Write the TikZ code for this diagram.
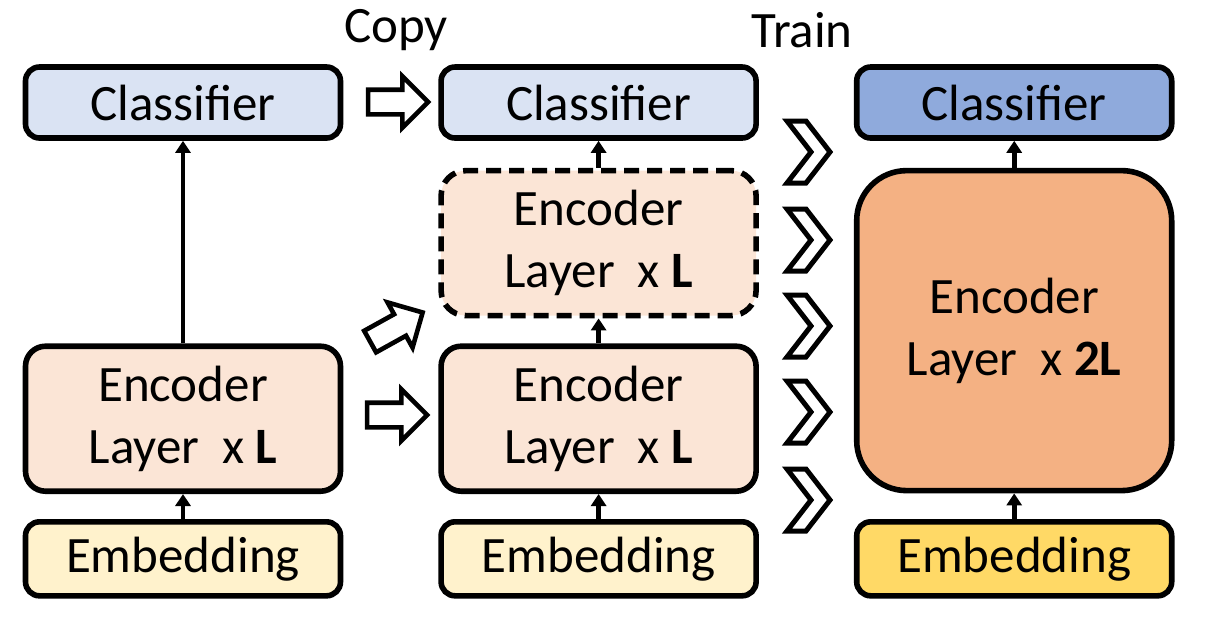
\documentclass[tikz,border=0pt]{standalone}
\usepackage{fontspec}
\setmainfont{Carlito}
\usetikzlibrary{positioning, shapes.arrows, arrows.meta}

\definecolor{clslight}{HTML}{DAE3F3}
\definecolor{clsdark}{HTML}{8FAADC}
\definecolor{enclight}{HTML}{FBE5D6}
\definecolor{encdark}{HTML}{F4B183}
\definecolor{emblight}{HTML}{FFF2CC}
\definecolor{embdark}{HTML}{FFD966}

\begin{document}
\begin{tikzpicture}[x=0.5pt, y=-0.5pt, node distance=12.5pt]
    \tikzstyle{block}=[draw, rectangle, rounded corners=7pt, line width=2.8pt, minimum width=157.5pt, inner sep=0pt, align=center, font=\fontsize{25.5}{31}\selectfont];
    \tikzstyle{cls}=[block, minimum height=35.5pt, fill=clslight];
    \tikzstyle{enc}=[block, minimum height=72.5pt, rounded corners=10pt, fill=enclight];
    \tikzstyle{emb}=[block, minimum height=37pt, fill=emblight];
    \tikzstyle{up}=[-{Triangle[length=6pt, width=7.5pt]}, line width=2.4pt];
    \tikzstyle{hollow}=[draw, single arrow, line width=2.3pt, minimum height=30pt, inner xsep=0pt, inner ysep=5pt, single arrow head extend=6.75pt];
    \useasboundingbox (0,0) rectangle (1210,629);

    \node[font=\fontsize{25.5}{31}\selectfont] (copy) at (396,30) {Copy};
    \node[font=\fontsize{25.5}{31}\selectfont] (train) at (802,30) {Train};

    \node[cls] (cls1) at (183,102.5) {Classifier};
    \node[cls, right=47.5pt of cls1] (cls2) {Classifier};
    \node[cls, right=47.5pt of cls2, fill=clsdark] (cls3) {Classifier};

    \node[enc, below=13.5pt of cls2, dashed, dash pattern=on 7.5pt off 4pt, rounded corners=12.5pt] (enc2a) {Encoder\\Layer~~x \textbf{L}};
    \node[enc, below=12.5pt of enc2a] (enc2b) {Encoder\\Layer~~x \textbf{L}};
    \node[emb, below=12.5pt of enc2b] (emb2) {Embedding};
    \node[enc, left=47.5pt of enc2b] (enc1) {Encoder\\Layer~~x \textbf{L}};
    \node[emb, left=47.5pt of emb2] (emb1) {Embedding};
    \node[enc, below=13.5pt of cls3, minimum height=160pt, rounded corners=25pt, fill=encdark] (enc3) {Encoder\\Layer~~x \textbf{2L}};
    \node[emb, right=47.5pt of emb2, fill=embdark] (emb3) {Embedding};

    % copy arrows
    \node[hollow] (cpya) at (392,102) {};
    \node[hollow, rotate=29] (cpyb) at (391,330) {};
    \node[hollow] (cpyc) at (391,415) {};

    % train chevrons
    \foreach \cy in {152,240,326,412,500}
        \draw[line width=2.5pt, miter limit=20] (787,\cy-31) -- (806,\cy-31) -- (830,\cy) -- (806,\cy+31) -- (787,\cy+31) -- (811,\cy) -- cycle;

    \path[up]
    (emb1) edge (enc1)
    (enc1) edge (cls1)
    (emb2) edge (enc2b)
    (enc2b) edge (enc2a)
    (enc2a) edge (cls2)
    (emb3) edge (enc3)
    (enc3) edge (cls3);
\end{tikzpicture}
\end{document}
